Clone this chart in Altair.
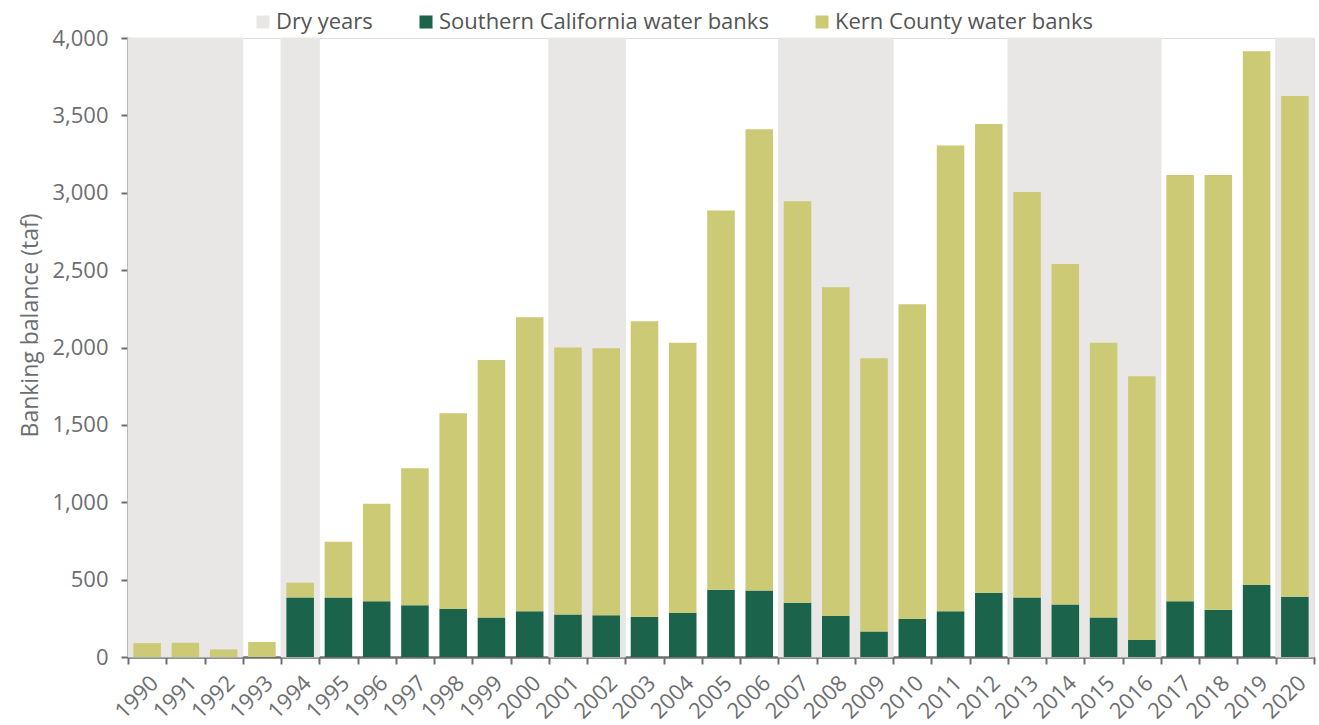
import altair as alt
import pandas as pd

# Water bank balances (thousand acre-feet) by year
years = [str(y) for y in range(1990, 2021)]
socal = [0, 0, 0, 0, 385, 385, 360, 335, 310, 255, 295, 275, 270, 260, 285, 435,
         430, 350, 265, 165, 245, 295, 415, 385, 340, 255, 110, 360, 305, 465, 390]
kern = [90, 92, 49, 97, 95, 360, 630, 885, 1265, 1665, 1900, 1725, 1725, 1910,
        1745, 2450, 2980, 2595, 2125, 1765, 2035, 3010, 3030, 2620, 2200, 1775,
        1705, 2755, 2810, 3450, 3235]
dry_years = ["1990", "1991", "1992", "1994", "2001", "2002", "2007", "2008",
             "2009", "2013", "2014", "2015", "2016", "2020"]

series_names = ["Dry years", "Southern California water banks", "Kern County water banks"]
series_colors = ["#e8e7e6", "#1b634a", "#cdca76"]

rows = []
for y, s, k in zip(years, socal, kern):
    if s > 0:
        rows.append({"year": y, "series": series_names[1], "value": s, "rank": 0})
    rows.append({"year": y, "series": series_names[2], "value": k, "rank": 1})
bars_df = pd.DataFrame(rows)
dry_df = pd.DataFrame({"year": dry_years, "series": series_names[0], "value": 4000})

grey = "#6d6e71"
font = "Open Sans"

x_enc = alt.X(
    "year:O",
    sort=years,
    scale=alt.Scale(domain=years, paddingInner=0, paddingOuter=0),
    axis=alt.Axis(
        title=None, labelAngle=-45, labelFontSize=22, labelColor=grey,
        labelFont=font, tickBand="extent", tickColor=grey, tickSize=7,
        tickWidth=2, domainColor=grey, domainWidth=2.5, labelPadding=8,
        labelAlign="right", labelBaseline="top",
    ),
)
y_scale = alt.Scale(domain=[0, 4000], nice=False)
y_axis = alt.Axis(
    title="Banking balance (taf)", values=list(range(0, 4001, 500)),
    format=",d", grid=False, labelFontSize=22, labelColor=grey,
    labelFont=font, titleFont=font, titleFontSize=23,
    titleFontWeight="normal", titleColor=grey, tickColor=grey,
    tickSize=7, tickWidth=2, domainColor=grey, domainWidth=2.5,
    labelPadding=13, titlePadding=9, titleY=287,
)
color_scale = alt.Scale(domain=series_names, range=series_colors)
legend = alt.Legend(
    title=None, orient="none", legendX=124, legendY=-27, direction="horizontal",
    symbolType="square", symbolSize=170, symbolStrokeWidth=0, labelFontSize=22,
    labelColor="#555555", labelFont=font, columnPadding=42, labelOffset=2,
    labelLimit=600,
)

# Grey bands marking dry years, drawn full height behind the bars
dry = alt.Chart(dry_df).mark_bar(
    width=alt.RelativeBandSize(1), stroke=series_colors[0], strokeWidth=1
).encode(
    x=x_enc,
    y=alt.Y("value:Q", scale=y_scale, axis=y_axis),
    color=alt.Color("series:N", scale=color_scale, legend=legend),
)

# Stacked balances: Southern California at the bottom, Kern County on top
bars = alt.Chart(bars_df).mark_bar(width=alt.RelativeBandSize(0.72)).encode(
    x=x_enc,
    y=alt.Y("value:Q", stack="zero", scale=y_scale, axis=y_axis),
    color=alt.Color("series:N", scale=color_scale, legend=legend),
    order=alt.Order("rank:Q"),
)

chart = alt.layer(dry, bars).properties(
    width=1186, height=619,
    autosize=alt.AutoSizeParams(type="none"),
    padding={"left": 128, "top": 38, "right": 5, "bottom": 68},
).configure_view(strokeWidth=0, stroke="transparent").configure(background="white")

chart.save("out.html", embed_options={"renderer": "svg", "actions": False})
